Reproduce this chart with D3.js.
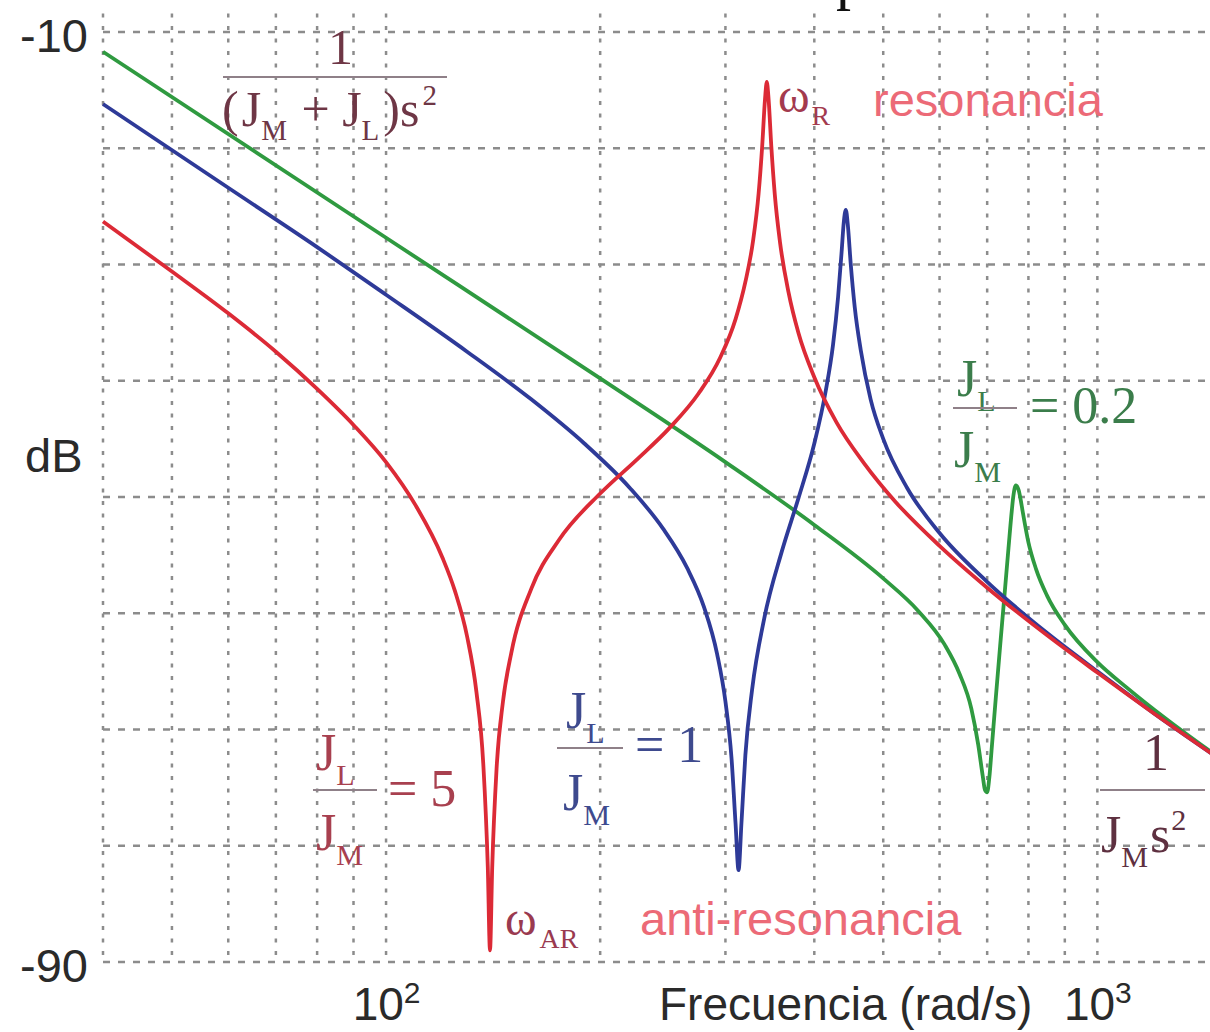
<!DOCTYPE html>
<html>
<head>
<meta charset="utf-8">
<script src="https://cdn.jsdelivr.net/npm/d3@7"></script>
<style>
  body { margin: 0; background: #fff; }
  svg { display: block; }
  text { white-space: pre; }
</style>
</head>
<body>
<div id="chart"></div>
<script>
// grid and ticks
const xGrid = [40, 50, 60, 70, 80, 90, 100, 200, 300, 400, 500, 600, 700, 800, 900, 1000];
const yGrid = [-10, -20, -30, -40, -50, -60, -70, -80, -90];
const xTicks = [100, 1000];
const yTicks = [-10, -90];

// J_L/J_M = 5
const freqRed = [40,50,60,70,80,90,100,110,120,125,130,134,137,139,140,141,143,146,150,160,175,200,225,250,275,295,310,320,328,334,338,341,343,345,348,352,358,368,380,400,430,470,520,600,700,850,1000,1200,1450];
const dbRed = [-26.3,-30.6,-34.2,-37.5,-40.7,-43.8,-47.0,-50.7,-55.2,-58.1,-62.0,-66.8,-73.0,-81.8,-89.0,-81.9,-73.4,-67.6,-63.4,-57.9,-53.7,-49.7,-46.8,-44.1,-41.1,-38.0,-34.7,-31.5,-28.0,-23.9,-19.7,-15.8,-14.3,-15.8,-19.8,-24.0,-28.1,-32.4,-35.9,-39.7,-43.6,-47.1,-50.4,-54.2,-57.8,-61.9,-65.1,-68.6,-72.1];

// J_L/J_M = 1
const freqBlue = [40,60,80,100,130,160,190,220,245,265,280,292,300,306,310,313,316,320,327,340,360,380,400,415,425,432,437,440,443,446,450,456,465,480,500,540,600,700,850,1000,1200,1450];
const dbBlue = [-16.2,-23.4,-28.5,-32.6,-37.5,-41.6,-45.4,-49.2,-52.7,-56.1,-59.5,-63.5,-67.6,-72.5,-78.1,-82.1,-78.0,-72.2,-66.6,-60.5,-54.7,-50.1,-45.4,-40.9,-36.9,-32.8,-28.9,-26.4,-25.3,-26.7,-29.9,-33.7,-37.4,-41.6,-45.0,-49.2,-53.1,-57.3,-61.7,-65.0,-68.6,-72.1];

// J_L/J_M = 0.2
const freqGreen = [40,100,200,300,400,500,560,610,640,665,680,690,695,700,705,710,720,730,740,750,758,762,768,775,780,785,800,820,850,900,1000,1100,1250,1450];
const dbGreen = [-11.7,-27.7,-39.8,-47.0,-52.4,-57.0,-59.8,-62.7,-65.2,-68.2,-71.3,-74.0,-75.2,-75.4,-74.1,-71.8,-67.2,-62.8,-58.6,-54.4,-51.2,-49.9,-49.0,-49.4,-50.2,-51.2,-53.9,-56.2,-58.5,-61.0,-64.2,-66.4,-69.1,-72.0];

const width = 1210, height = 1032;
const sans = "'Liberation Sans', Arial, sans-serif";
const serif = "'Liberation Serif', 'Times New Roman', serif";

const svg = d3.select("#chart").append("svg")
  .attr("width", width)
  .attr("height", height);

const x = d3.scaleLog().domain([40, 1440]).range([103, 1210]);
const y = d3.scaleLinear().domain([-90, -10]).range([962, 32]);

// grid
svg.append("g").selectAll("line")
  .data(xGrid)
  .enter().append("line")
  .attr("x1", d => x(d)).attr("x2", d => x(d))
  .attr("y1", y(-8.4)).attr("y2", y(-90))
  .attr("stroke", "#8c8c8c")
  .attr("stroke-width", 2.5)
  .attr("stroke-dasharray", "4,8.5");

svg.append("g").selectAll("line")
  .data(yGrid)
  .enter().append("line")
  .attr("x1", x(40)).attr("x2", width - 4)
  .attr("y1", d => y(d)).attr("y2", d => y(d))
  .attr("stroke", "#8c8c8c")
  .attr("stroke-width", 2.5)
  .attr("stroke-dasharray", "7,8");

// axes
svg.append("g")
  .attr("transform", `translate(${x(40)},0)`)
  .call(d3.axisLeft(y).tickValues(yTicks).tickSize(0).tickPadding(15).tickFormat(d => String(d)))
  .call(g => g.select(".domain").remove())
  .attr("font-size", 47).attr("font-family", sans)
  .selectAll("text").attr("fill", "#2a2a2a").attr("dy", "0.42em");

svg.append("g")
  .attr("transform", `translate(0,${y(-90)})`)
  .call(d3.axisBottom(x).tickValues(xTicks).tickSize(0).tickPadding(25).tickFormat(""))
  .call(g => g.select(".domain").remove())
  .attr("font-size", 46).attr("font-family", sans)
  .selectAll(".tick text")
  .attr("fill", "#2a2a2a")
  .each(function(d) {
    const t = d3.select(this);
    t.append("tspan").text("10");
    t.append("tspan").attr("font-size", 30).attr("dy", -17).text(Math.round(Math.log10(d)));
  });

svg.append("text")
  .attr("x", 25).attr("y", (y(-10) + y(-90)) / 2 - 25)
  .attr("font-family", sans).attr("font-size", 47).attr("fill", "#2a2a2a")
  .text("dB");

svg.append("text")
  .attr("x", 659).attr("y", 1020)
  .attr("font-family", sans).attr("font-size", 46).attr("fill", "#2a2a2a")
  .text("Frecuencia (rad/s)");

// curves
const line = d3.line()
  .x(d => x(d[0]))
  .y(d => y(d[1]))
  .curve(d3.curveMonotoneX);

const series = [
  { freq: freqGreen, db: dbGreen, color: "#2f9a40" },
  { freq: freqBlue, db: dbBlue, color: "#2e3a98" },
  { freq: freqRed, db: dbRed, color: "#dc2a36" }
];

svg.append("g").selectAll("path")
  .data(series)
  .enter().append("path")
  .attr("d", s => line(s.freq.map((f, i) => [f, s.db[i]])))
  .attr("fill", "none")
  .attr("stroke", s => s.color)
  .attr("stroke-width", 3.8)
  .attr("stroke-linejoin", "round");

// annotations
function mathText(px, py, parts, size, color) {
  const t = svg.append("text")
    .attr("x", px).attr("y", py)
    .attr("font-family", serif)
    .attr("font-size", size)
    .attr("fill", color);
  let shift = 0;
  parts.forEach(([s, k, dx]) => {
    const target = k === "sub" ? size * 0.28 : k === "sup" ? -size * 0.42 : 0;
    t.append("tspan")
      .attr("dy", target - shift)
      .attr("dx", dx || 0)
      .attr("font-size", k === "n" ? size : size * 0.58)
      .text(s);
    shift = target;
  });
  return t;
}

function bar(x1, x2, yy) {
  svg.append("line")
    .attr("x1", x1).attr("x2", x2)
    .attr("y1", yy).attr("y2", yy)
    .attr("stroke", "#8f8088")
    .attr("stroke-width", 2);
}

// 1/((J_M+J_L)s^2)
const cTop = "#6e3645";
mathText(328, 64, [["1", "n"]], 50, cTop);
bar(223, 447, 77);
mathText(222, 126, [["(", "n"], ["J", "n", 3], ["M", "sub"], [" + ", "n", 2], ["J", "n"], ["L", "sub"], [")", "n", 4], ["s", "n"], ["2", "sup", 3]], 50, cTop);

// resonance
mathText(778, 112, [["ω", "n"], ["R", "sub", 2]], 48, "#a33a4e");
svg.append("text").attr("x", 873).attr("y", 116)
  .attr("font-family", sans).attr("font-size", 47).attr("fill", "#ec6a77")
  .text("resonancia");

// anti-resonance
mathText(505, 935, [["ω", "n"], ["AR", "sub", 3]], 48, "#9a3a50");
svg.append("text").attr("x", 640).attr("y", 935)
  .attr("font-family", sans).attr("font-size", 47).attr("fill", "#ec6a77")
  .text("anti-resonancia");

// J_L/J_M = 5
const cRed = "#a8404f";
mathText(316, 770, [["J", "n"], ["L", "sub"]], 52, cRed);
bar(313, 377, 790);
mathText(316, 850, [["J", "n"], ["M", "sub"]], 52, cRed);
mathText(388, 806, [["= 5", "n"]], 52, cRed);

// J_L/J_M = 1
const cBlue = "#3e4a8e";
mathText(566, 728, [["J", "n"], ["L", "sub"]], 52, cBlue);
bar(557, 623, 748);
mathText(563, 810, [["J", "n"], ["M", "sub"]], 52, cBlue);
mathText(635, 762, [["= 1", "n"]], 52, cBlue);

// J_L/J_M = 0.2
const cGreen = "#3b7d4b";
mathText(957, 396, [["J", "n"], ["L", "sub"]], 52, cGreen);
bar(953, 1017, 408);
mathText(954, 467, [["J", "n"], ["M", "sub"]], 52, cGreen);
mathText(1030, 423, [["= 0.2", "n"]], 52, cGreen);

// 1/(J_M s^2)
const cBr = "#5e3040";
mathText(1143, 770, [["1", "n"]], 52, cBr);
bar(1100, 1205, 790);
mathText(1101, 852, [["J", "n"], ["M", "sub"], ["s", "n", 2], ["2", "sup", 1]], 52, cBr);

// cut-off title glyph at the top edge
svg.append("text").attr("x", 836).attr("y", -2)
  .attr("font-family", serif).attr("font-size", 60).attr("fill", "#111")
  .text("p");
</script>
</body>
</html>
